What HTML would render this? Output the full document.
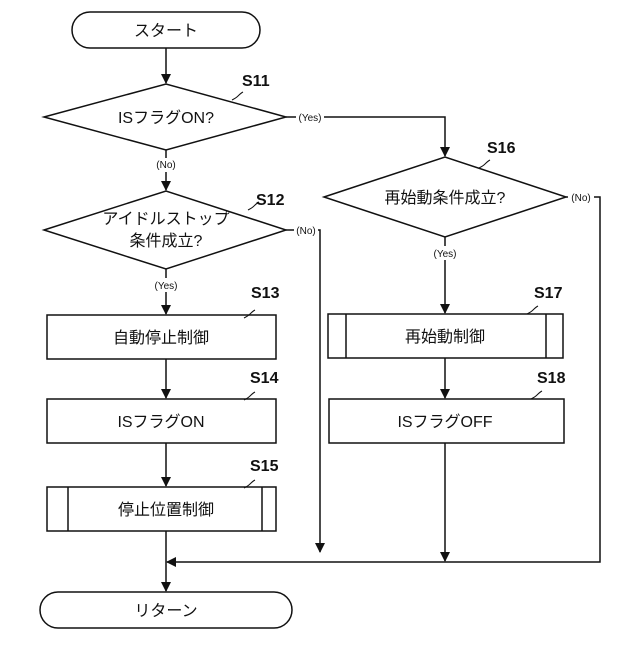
<!DOCTYPE html>
<html><head><meta charset="utf-8"><style>
body{margin:0;background:#fff;}
svg text{font-family:"Liberation Sans","Noto Sans CJK JP",sans-serif;fill:#111;}
</style></head><body>
<svg width="640" height="640" viewBox="0 0 640 640" xmlns="http://www.w3.org/2000/svg">
<defs><marker id="a" markerWidth="10" markerHeight="10" refX="9" refY="5" orient="auto" markerUnits="userSpaceOnUse"><path d="M0,0 L10,5 L0,10 z" fill="#111"/></marker></defs>
<g stroke="#111" stroke-width="1.5" fill="none">
<rect x="72" y="12" width="188" height="36" rx="18"/>
<line x1="166" y1="48" x2="166" y2="83" marker-end="url(#a)"/>
<polygon points="44,117 166,84 286,117 166,150"/>
<polyline points="286,117 445,117 445,156" marker-end="url(#a)"/>
<line x1="166" y1="150" x2="166" y2="190" marker-end="url(#a)"/>
<polygon points="44,230 166,191 286,230 166,269"/>
<polyline points="286,230 320,230 320,552" marker-end="url(#a)"/>
<line x1="166" y1="269" x2="166" y2="314" marker-end="url(#a)"/>
<rect x="47" y="315" width="229" height="44"/>
<line x1="166" y1="359" x2="166" y2="398" marker-end="url(#a)"/>
<rect x="47" y="399" width="229" height="44"/>
<line x1="166" y1="443" x2="166" y2="486" marker-end="url(#a)"/>
<rect x="47" y="487" width="229" height="44"/>
<line x1="68" y1="487" x2="68" y2="531"/><line x1="262" y1="487" x2="262" y2="531"/>
<polygon points="324,197 445,157 566,197 445,237"/>
<polyline points="566,197 600,197 600,562 167,562" marker-end="url(#a)"/>
<line x1="445" y1="237" x2="445" y2="313" marker-end="url(#a)"/>
<rect x="328" y="314" width="235" height="44"/>
<line x1="346" y1="314" x2="346" y2="358"/><line x1="546" y1="314" x2="546" y2="358"/>
<line x1="445" y1="358" x2="445" y2="398" marker-end="url(#a)"/>
<rect x="329" y="399" width="235" height="44"/>
<line x1="445" y1="443" x2="445" y2="561" marker-end="url(#a)"/>
<line x1="166" y1="531" x2="166" y2="591" marker-end="url(#a)"/>
<rect x="40" y="592" width="252" height="36" rx="18"/>
<path d="M232,100 q4,-2 6,-4 q3,-3 5,-4" stroke-width="1"/>
<path d="M248,210 q4,-2 6,-4 q3,-3 5,-4" stroke-width="1"/>
<path d="M244,318 q4,-2 6,-4 q3,-3 5,-4" stroke-width="1"/>
<path d="M244,400 q4,-2 6,-4 q3,-3 5,-4" stroke-width="1"/>
<path d="M244,488 q4,-2 6,-4 q3,-3 5,-4" stroke-width="1"/>
<path d="M479,168 q4,-2 6,-4 q3,-3 5,-4" stroke-width="1"/>
<path d="M527,314 q4,-2 6,-4 q3,-3 5,-4" stroke-width="1"/>
<path d="M531,399 q4,-2 6,-4 q3,-3 5,-4" stroke-width="1"/>
</g>
<rect x="296" y="111" width="28" height="12" fill="#fff"/>
<rect x="154" y="158" width="24" height="14" fill="#fff"/>
<rect x="152" y="278" width="28" height="14" fill="#fff"/>
<rect x="294" y="224" width="24" height="12" fill="#fff"/>
<rect x="568" y="191" width="26" height="12" fill="#fff"/>
<rect x="431" y="246" width="28" height="14" fill="#fff"/>
<g font-size="16" text-anchor="middle">
<text x="166" y="36">スタート</text>
<text x="166" y="123">ISフラグON?</text>
<text x="166" y="224">アイドルストップ</text>
<text x="166" y="246">条件成立?</text>
<text x="161" y="343">自動停止制御</text>
<text x="161" y="427">ISフラグON</text>
<text x="166" y="515">停止位置制御</text>
<text x="445" y="203">再始動条件成立?</text>
<text x="445" y="342">再始動制御</text>
<text x="445" y="427">ISフラグOFF</text>
<text x="166" y="616">リターン</text>
</g>
<g font-size="16" font-weight="bold">
<text x="242" y="86">S11</text><text x="256" y="205">S12</text><text x="251" y="298">S13</text>
<text x="250" y="383">S14</text><text x="250" y="471">S15</text><text x="487" y="153">S16</text>
<text x="534" y="298">S17</text><text x="537" y="383">S18</text>
</g>
<g font-size="10" text-anchor="middle">
<text x="310" y="121">(Yes)</text><text x="166" y="168">(No)</text><text x="166" y="289">(Yes)</text>
<text x="306" y="234">(No)</text><text x="581" y="201">(No)</text><text x="445" y="257">(Yes)</text>
</g>
</svg>
</body></html>
